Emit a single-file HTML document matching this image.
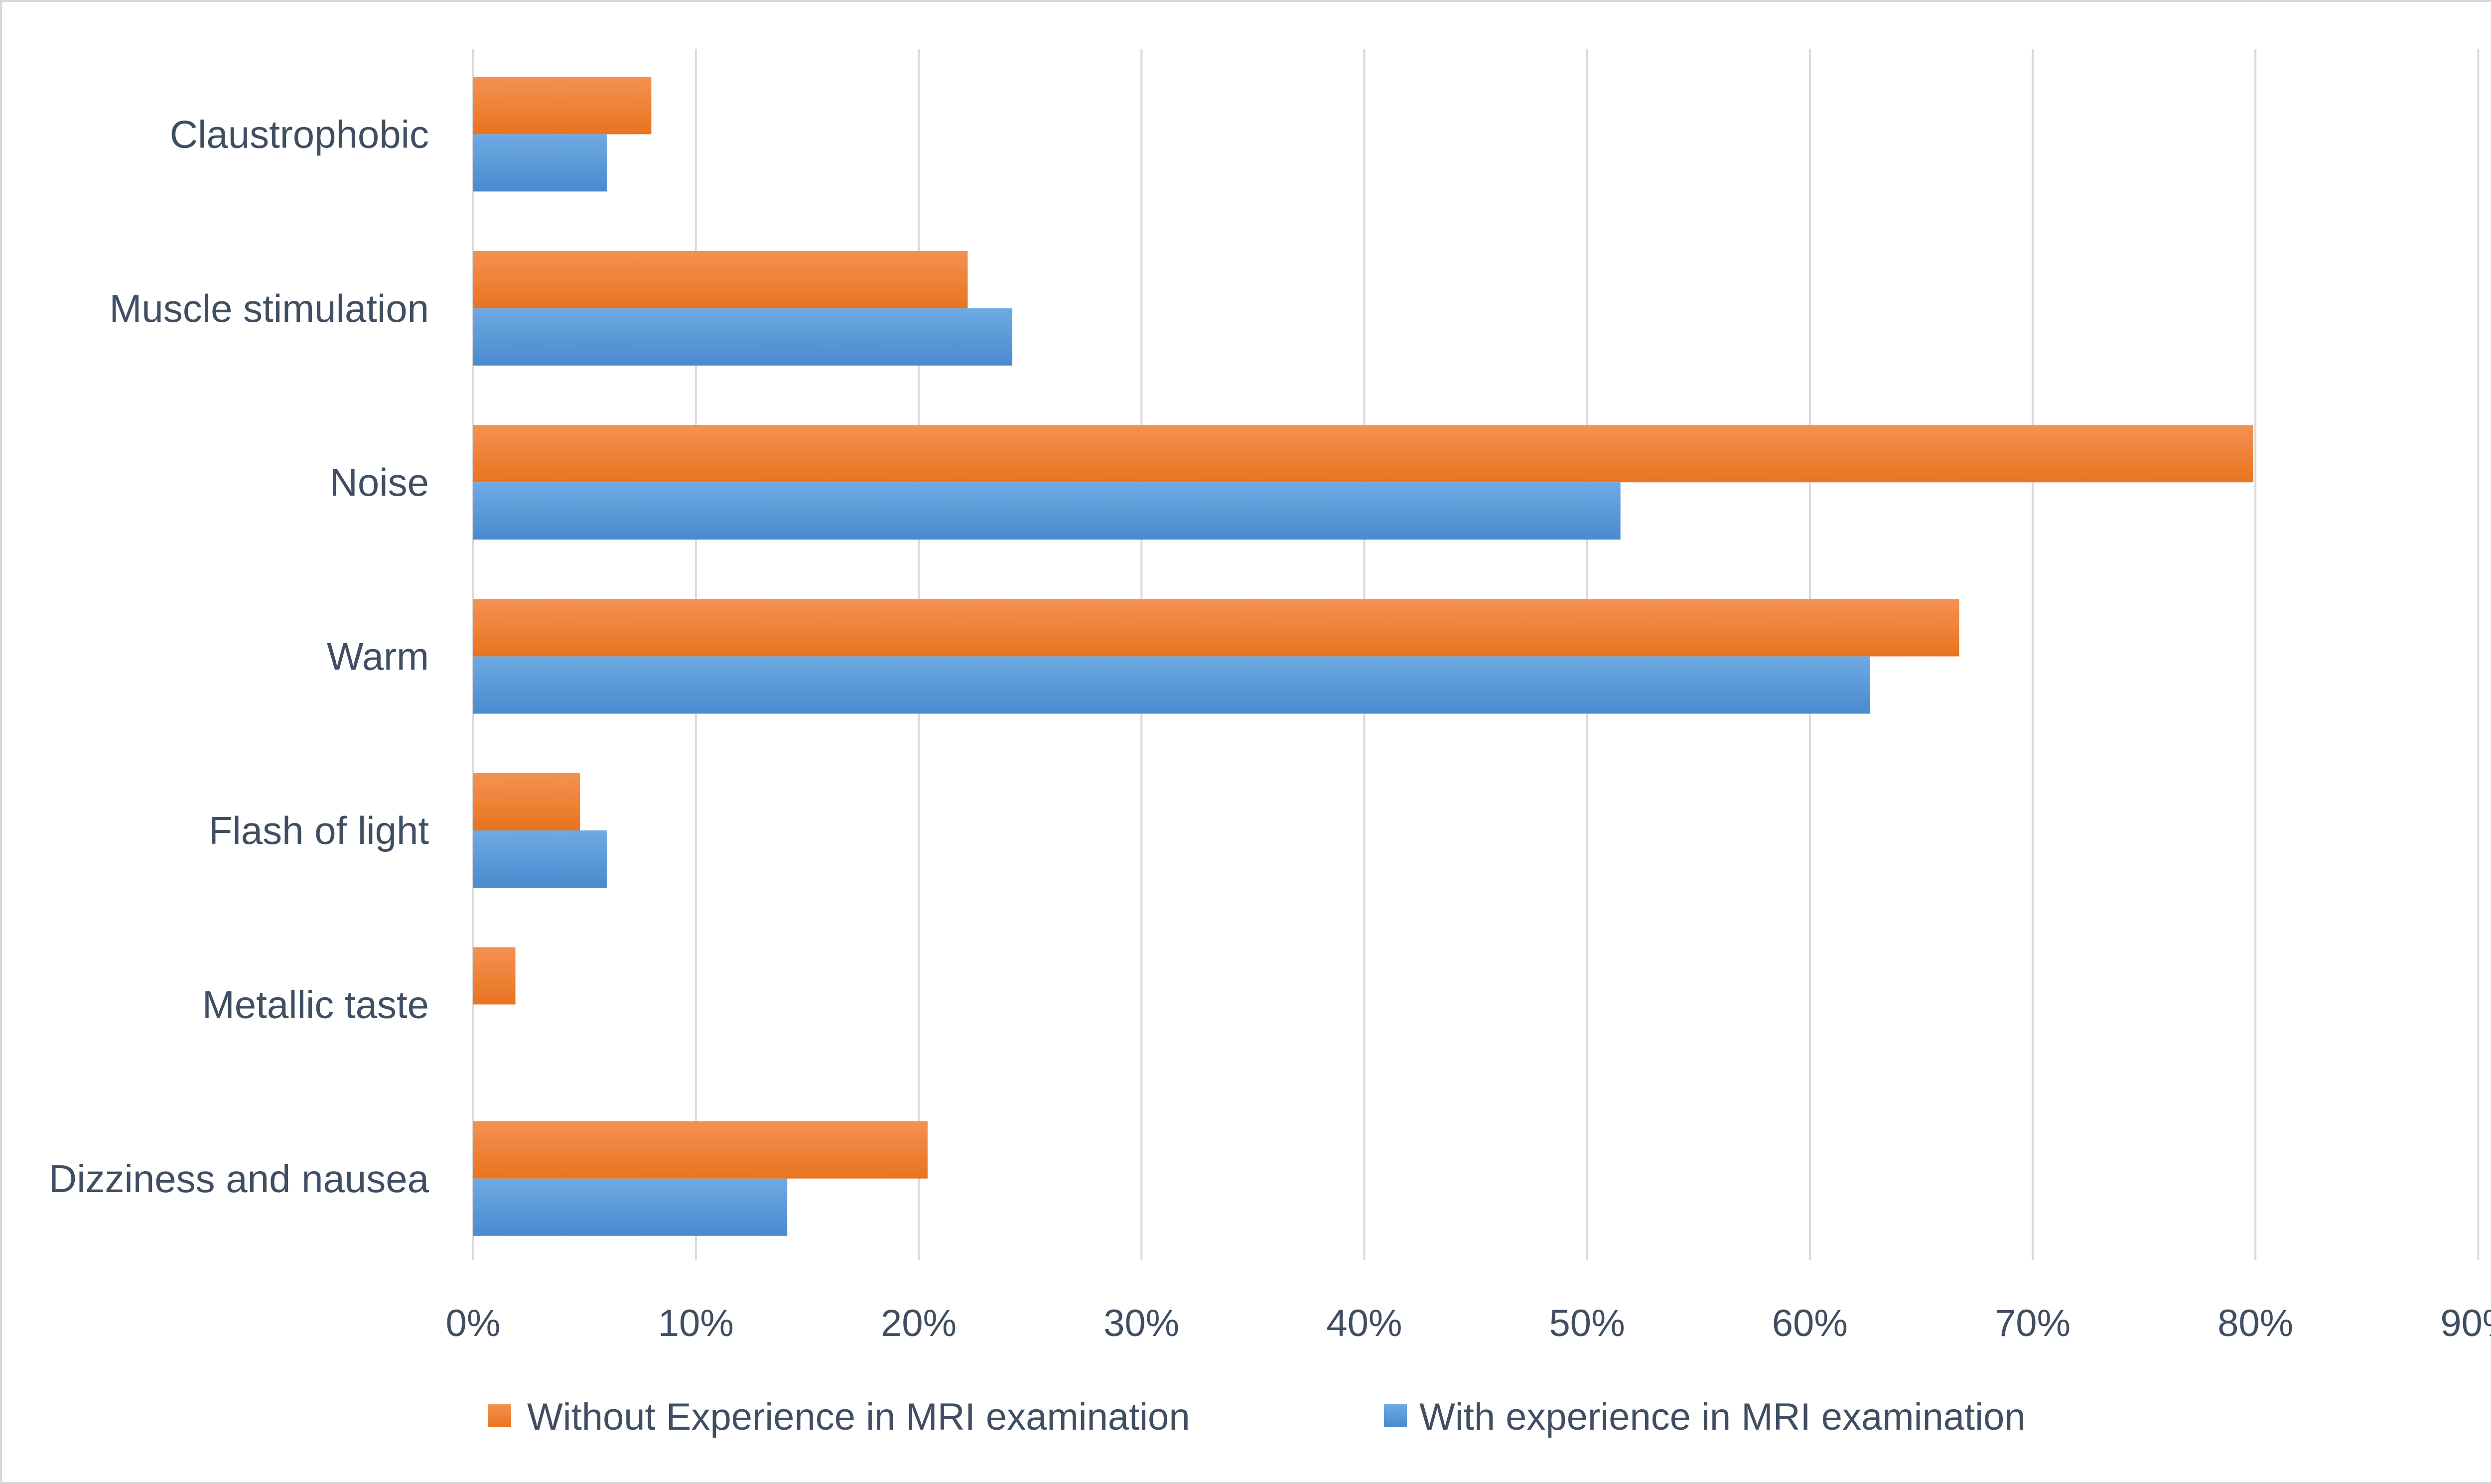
<!DOCTYPE html>
<html><head><meta charset="utf-8"><style>
html,body{margin:0;padding:0;background:#fff;}
svg{display:block;}
text{font-family:"Liberation Sans",sans-serif;fill:#404e63;}
</style></head><body>
<svg id="chart" width="5152" height="2979" viewBox="0 0 5152 2979" xmlns="http://www.w3.org/2000/svg">
<defs>
<linearGradient id="gOr" x1="0" y1="0" x2="0" y2="1"><stop offset="0" stop-color="#f49252"/><stop offset="1" stop-color="#e9731f"/></linearGradient>
<linearGradient id="gBl" x1="0" y1="0" x2="0" y2="1"><stop offset="0" stop-color="#6eaae3"/><stop offset="1" stop-color="#4a8ace"/></linearGradient>
</defs>
<rect x="2" y="2" width="5148" height="2975" fill="#fff" stroke="#d9d9d9" stroke-width="4"/>
<g id="grid"></g>
<g id="bars"></g>
<g id="ylabels"></g>
<g id="xlabels"></g>
<g>
<rect x="980" y="2819" width="46" height="46" fill="url(#gOr)"/>
<text x="1058" y="2870" font-size="76">Without Experience in MRI examination</text>
<rect x="2778" y="2819" width="46" height="46" fill="url(#gBl)"/>
<text x="2849" y="2870" font-size="76">With experience in MRI examination</text>
</g>
</svg>
<script>
const categories = ["Claustrophobic","Muscle stimulation","Noise","Warm","Flash of light","Metallic taste","Dizziness and nausea"];
const withoutExp = [8.0,22.2,79.9,66.7,4.8,1.9,20.4];
const withExp = [6.0,24.2,51.5,62.7,6.0,0,14.1];
const ticks = [0,10,20,30,40,50,60,70,80,90];
const tickLabels = ["0%","10%","20%","30%","40%","50%","60%","70%","80%","90%"];

const NS="http://www.w3.org/2000/svg";
const x0=949.6, xPer=44.72, yTop=98, yBot=2530, rowH=349.4, firstC=269.4, barH=115;
const xs=v=>x0+v*xPer;
const yc=i=>firstC+i*rowH;
function mk(tag,attrs,parent){const e=document.createElementNS(NS,tag);for(const k in attrs)e.setAttribute(k,attrs[k]);document.getElementById(parent).appendChild(e);return e;}

ticks.forEach((t,i)=>{
  const l=mk('line',{x1:xs(t),x2:xs(t),y1:yTop,y2:yBot,stroke:'#d9d9d9','stroke-width':4},'grid');
  
  
  const tx=mk('text',{x:xs(t),y:2682,'font-size':76,'text-anchor':'middle'},'xlabels');
  tx.textContent=tickLabels[i];
  
  
});
categories.forEach((c,i)=>{
  const c1=yc(i);
  const a=mk('rect',{x:x0,y:c1-barH,width:xs(withoutExp[i])-x0,height:barH,fill:'url(#gOr)'},'bars');
  
  
  const b=mk('rect',{x:x0,y:c1,width:xs(withExp[i])-x0,height:barH,fill:'url(#gBl)'},'bars');
  
  
  const t=mk('text',{x:861,y:c1+27,'font-size':78,'text-anchor':'end'},'ylabels');
  t.textContent=c;
  
  
});
</script>
</body></html>
